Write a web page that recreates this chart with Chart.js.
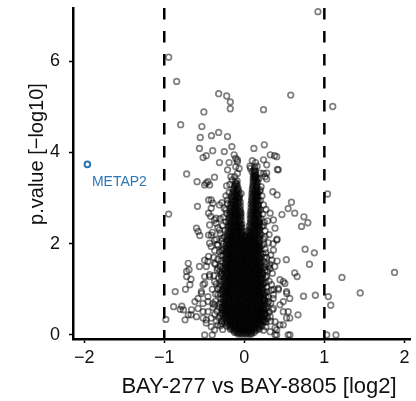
<!DOCTYPE html>
<html>
<head>
<meta charset="utf-8">
<script src="https://cdn.jsdelivr.net/npm/chart.js@4/dist/chart.umd.min.js"></script>
<style>
  html, body { margin: 0; padding: 0; background: #fff; }
  canvas { display: block; }
</style>
</head>
<body>
<canvas id="volcano" width="416" height="401"></canvas>
<script>
// volcano plot: BAY-277 vs BAY-8805

const xTicks = [-2, -1, 0, 1, 2];
const yTicks = [0, 2, 4, 6];
const cutoffs = [-1, 1];

const xTitle = 'BAY-277 vs BAY-8805 [log2]';
const yTitle = 'p.value [\u2212log10]';

// highlighted protein
const hitNames = ['METAP2'];
const hitPoints = [[-1.96, 3.74]];

// dense centre of the cloud, one row per -log10 p level: [y, [log2 fc ...]]
const coreRows = [
    [0.02, [-0.08, -0.05, -0.02, 0.01, 0.04, 0.07, 0.09]],
    [0.055, [-0.12, -0.09, -0.07, -0.04, -0.005, 0.025, 0.055, 0.085, 0.12]],
    [0.09, [-0.13, -0.10, -0.06, -0.03, 0.0, 0.03, 0.07, 0.10, 0.14]],
    [0.125, [-0.175, -0.15, -0.115, -0.08, -0.045, -0.01, 0.02, 0.05, 0.09, 0.125, 0.16, 0.19]],
    [0.16, [-0.17, -0.13, -0.10, -0.06, -0.02, 0.01, 0.05, 0.08, 0.12, 0.15, 0.18]],
    [0.195, [-0.22, -0.18, -0.145, -0.11, -0.07, -0.035, 0.005, 0.04, 0.075, 0.11, 0.15, 0.185, 0.22]],
    [0.23, [-0.20, -0.16, -0.12, -0.09, -0.05, -0.01, 0.02, 0.06, 0.09, 0.13, 0.17, 0.20]],
    [0.265, [-0.245, -0.21, -0.17, -0.13, -0.10, -0.06, -0.025, 0.015, 0.05, 0.09, 0.12, 0.16, 0.20, 0.235]],
    [0.30, [-0.22, -0.18, -0.15, -0.11, -0.07, -0.04, 0.0, 0.03, 0.07, 0.11, 0.14, 0.18, 0.22]],
    [0.335, [-0.26, -0.22, -0.185, -0.14, -0.105, -0.07, -0.03, 0.005, 0.045, 0.08, 0.125, 0.155, 0.19, 0.23, 0.25]],
    [0.37, [-0.235, -0.20, -0.16, -0.12, -0.09, -0.05, -0.01, 0.02, 0.06, 0.10, 0.13, 0.17, 0.20, 0.225]],
    [0.405, [-0.265, -0.22, -0.18, -0.145, -0.11, -0.075, -0.04, 0.005, 0.035, 0.08, 0.115, 0.15, 0.185, 0.21, 0.245]],
    [0.44, [-0.24, -0.21, -0.17, -0.13, -0.10, -0.06, -0.02, 0.01, 0.05, 0.08, 0.12, 0.16, 0.19, 0.22]],
    [0.475, [-0.27, -0.23, -0.195, -0.155, -0.12, -0.08, -0.045, -0.01, 0.025, 0.065, 0.095, 0.135, 0.17, 0.20, 0.24, 0.26]],
    [0.51, [-0.245, -0.22, -0.18, -0.14, -0.11, -0.07, -0.03, 0.0, 0.04, 0.07, 0.11, 0.15, 0.18, 0.22]],
    [0.545, [-0.265, -0.23, -0.20, -0.16, -0.125, -0.09, -0.05, -0.015, 0.02, 0.06, 0.09, 0.13, 0.165, 0.20, 0.235, 0.255]],
    [0.58, [-0.245, -0.21, -0.17, -0.13, -0.09, -0.06, -0.02, 0.02, 0.05, 0.09, 0.12, 0.16, 0.20, 0.22]],
    [0.615, [-0.27, -0.23, -0.19, -0.155, -0.12, -0.085, -0.045, -0.005, 0.035, 0.07, 0.10, 0.14, 0.175, 0.21, 0.245]],
    [0.65, [-0.245, -0.22, -0.18, -0.14, -0.11, -0.07, -0.03, 0.0, 0.04, 0.08, 0.11, 0.15, 0.18, 0.22]],
    [0.685, [-0.265, -0.225, -0.20, -0.16, -0.125, -0.09, -0.05, -0.015, 0.02, 0.05, 0.09, 0.13, 0.165, 0.20, 0.24, 0.255]],
    [0.72, [-0.24, -0.20, -0.16, -0.12, -0.09, -0.05, -0.01, 0.03, 0.06, 0.10, 0.13, 0.17, 0.21]],
    [0.755, [-0.265, -0.23, -0.19, -0.14, -0.105, -0.07, -0.035, 0.01, 0.045, 0.08, 0.115, 0.15, 0.19, 0.23, 0.25]],
    [0.79, [-0.245, -0.21, -0.18, -0.14, -0.10, -0.06, -0.03, 0.01, 0.05, 0.08, 0.12, 0.15, 0.19, 0.22]],
    [0.825, [-0.26, -0.225, -0.195, -0.16, -0.12, -0.08, -0.045, -0.01, 0.035, 0.065, 0.10, 0.135, 0.175, 0.205, 0.24]],
    [0.86, [-0.24, -0.20, -0.16, -0.13, -0.09, -0.05, -0.01, 0.02, 0.06, 0.10, 0.13, 0.17, 0.21]],
    [0.895, [-0.265, -0.22, -0.18, -0.145, -0.11, -0.07, -0.03, 0.005, 0.04, 0.08, 0.115, 0.15, 0.19, 0.23, 0.25]],
    [0.93, [-0.24, -0.21, -0.17, -0.14, -0.10, -0.06, -0.03, 0.01, 0.04, 0.08, 0.12, 0.15, 0.19, 0.215]],
    [0.965, [-0.26, -0.225, -0.19, -0.155, -0.12, -0.08, -0.045, -0.01, 0.025, 0.065, 0.10, 0.13, 0.17, 0.20, 0.235]],
    [1.00, [-0.235, -0.20, -0.16, -0.12, -0.08, -0.05, -0.01, 0.03, 0.06, 0.10, 0.14, 0.17, 0.21]],
    [1.035, [-0.255, -0.22, -0.18, -0.14, -0.10, -0.065, -0.03, 0.01, 0.045, 0.08, 0.12, 0.155, 0.19, 0.23]],
    [1.07, [-0.235, -0.21, -0.17, -0.13, -0.10, -0.06, -0.02, 0.01, 0.05, 0.08, 0.12, 0.16, 0.19, 0.21]],
    [1.105, [-0.26, -0.22, -0.19, -0.15, -0.115, -0.08, -0.04, -0.005, 0.03, 0.065, 0.10, 0.14, 0.175, 0.21, 0.235]],
    [1.14, [-0.23, -0.19, -0.15, -0.12, -0.08, -0.04, 0.0, 0.03, 0.07, 0.10, 0.14, 0.18, 0.205]],
    [1.175, [-0.255, -0.21, -0.17, -0.135, -0.10, -0.06, -0.025, 0.015, 0.05, 0.085, 0.12, 0.16, 0.19, 0.225]],
    [1.21, [-0.235, -0.20, -0.17, -0.13, -0.09, -0.06, -0.02, 0.02, 0.05, 0.09, 0.12, 0.16, 0.20]],
    [1.245, [-0.25, -0.215, -0.185, -0.15, -0.11, -0.075, -0.04, 0.0, 0.035, 0.07, 0.105, 0.14, 0.175, 0.21, 0.23]],
    [1.28, [-0.23, -0.19, -0.15, -0.11, -0.08, -0.04, 0.0, 0.04, 0.07, 0.11, 0.14, 0.18, 0.205]],
    [1.315, [-0.25, -0.21, -0.17, -0.135, -0.10, -0.06, -0.025, 0.015, 0.055, 0.09, 0.125, 0.16, 0.19, 0.225]],
    [1.35, [-0.225, -0.20, -0.16, -0.12, -0.09, -0.05, -0.01, 0.02, 0.06, 0.09, 0.13, 0.17, 0.20]],
    [1.385, [-0.245, -0.215, -0.18, -0.145, -0.105, -0.07, -0.03, 0.005, 0.04, 0.075, 0.11, 0.15, 0.19, 0.22]],
    [1.42, [-0.23, -0.19, -0.15, -0.11, -0.07, -0.04, 0.0, 0.04, 0.07, 0.11, 0.15, 0.18, 0.20]],
    [1.455, [-0.245, -0.21, -0.17, -0.13, -0.10, -0.065, -0.02, 0.015, 0.055, 0.09, 0.125, 0.16, 0.19, 0.215]],
    [1.49, [-0.225, -0.20, -0.16, -0.12, -0.09, -0.05, -0.01, 0.02, 0.06, 0.09, 0.13, 0.17, 0.195]],
    [1.525, [-0.24, -0.205, -0.175, -0.14, -0.10, -0.06, -0.02, 0.02, 0.06, 0.095, 0.13, 0.17, 0.21]],
    [1.56, [-0.22, -0.18, -0.14, -0.11, -0.07, -0.03, 0.0, 0.04, 0.08, 0.11, 0.15, 0.185]],
    [1.595, [-0.24, -0.20, -0.165, -0.13, -0.095, -0.055, -0.02, 0.015, 0.045, 0.08, 0.12, 0.155, 0.19, 0.21]],
    [1.63, [-0.22, -0.19, -0.15, -0.12, -0.08, -0.04, -0.01, 0.03, 0.06, 0.10, 0.13, 0.17, 0.19]],
    [1.665, [-0.235, -0.205, -0.17, -0.135, -0.10, -0.06, -0.025, 0.02, 0.06, 0.095, 0.135, 0.165, 0.205]],
    [1.70, [-0.215, -0.18, -0.14, -0.10, -0.07, -0.03, 0.01, 0.04, 0.08, 0.12, 0.15, 0.185]],
    [1.735, [-0.235, -0.20, -0.165, -0.125, -0.09, -0.055, -0.015, 0.02, 0.05, 0.09, 0.125, 0.16, 0.20]],
    [1.77, [-0.21, -0.19, -0.15, -0.11, -0.08, -0.04, 0.0, 0.03, 0.07, 0.10, 0.14, 0.18]],
    [1.805, [-0.23, -0.20, -0.165, -0.125, -0.08, -0.045, -0.01, 0.03, 0.065, 0.10, 0.135, 0.17, 0.20]],
    [1.84, [-0.215, -0.18, -0.14, -0.10, -0.06, -0.03, 0.01, 0.05, 0.08, 0.12, 0.15, 0.18]],
    [1.875, [-0.23, -0.195, -0.16, -0.12, -0.08, -0.04, 0.0, 0.035, 0.07, 0.105, 0.14, 0.17, 0.195]],
    [1.91, [-0.21, -0.17, -0.13, -0.09, -0.06, -0.02, 0.02, 0.05, 0.09, 0.12, 0.16, 0.18]],
    [1.945, [-0.225, -0.19, -0.15, -0.115, -0.08, -0.045, -0.005, 0.035, 0.07, 0.105, 0.14, 0.175, 0.195]],
    [1.98, [-0.20, -0.18, -0.14, -0.10, -0.07, -0.03, 0.01, 0.04, 0.08, 0.11, 0.15, 0.175]],
    [2.015, [-0.22, -0.18, -0.14, -0.11, -0.07, -0.035, 0.005, 0.04, 0.075, 0.11, 0.15, 0.19]],
    [2.05, [-0.20, -0.16, -0.12, -0.09, -0.05, -0.02, 0.02, 0.06, 0.09, 0.13, 0.17]],
    [2.085, [-0.22, -0.185, -0.145, -0.105, -0.075, -0.04, 0.0, 0.035, 0.07, 0.105, 0.14, 0.19]],
    [2.12, [-0.20, -0.17, -0.13, -0.10, -0.06, -0.03, 0.01, 0.05, 0.08, 0.12, 0.16, 0.175]],
    [2.155, [-0.215, -0.18, -0.15, -0.11, -0.075, -0.04, 0.0, 0.03, 0.065, 0.10, 0.14, 0.19]],
    [2.19, [-0.195, -0.16, -0.12, -0.09, -0.05, -0.02, 0.02, 0.07, 0.10, 0.13, 0.17]],
    [2.23, [-0.21, -0.17, -0.14, -0.10, -0.065, -0.035, 0.05, 0.085, 0.12, 0.16, 0.19]],
    [2.27, [-0.19, -0.15, -0.12, -0.08, -0.05, -0.02, 0.03, 0.07, 0.10, 0.14, 0.18]],
    [2.31, [-0.205, -0.17, -0.135, -0.10, -0.07, -0.045, 0.065, 0.095, 0.13, 0.165, 0.19]],
    [2.35, [-0.19, -0.16, -0.12, -0.09, -0.06, -0.03, 0.08, 0.11, 0.15, 0.18]],
    [2.39, [-0.20, -0.165, -0.13, -0.095, -0.065, -0.04, 0.065, 0.10, 0.135, 0.165, 0.19]],
    [2.43, [-0.18, -0.15, -0.11, -0.08, -0.05, -0.03, 0.08, 0.12, 0.15, 0.18]],
    [2.47, [-0.195, -0.16, -0.125, -0.09, -0.06, 0.075, 0.105, 0.14, 0.17, 0.19]],
    [2.51, [-0.18, -0.14, -0.11, -0.07, -0.04, 0.09, 0.12, 0.16, 0.18]],
    [2.55, [-0.19, -0.155, -0.12, -0.085, -0.055, 0.075, 0.11, 0.145, 0.185]],
    [2.59, [-0.17, -0.14, -0.10, -0.07, -0.04, 0.09, 0.13, 0.17]],
    [2.63, [-0.185, -0.15, -0.115, -0.08, -0.05, 0.075, 0.105, 0.135, 0.16, 0.18]],
    [2.67, [-0.17, -0.13, -0.10, -0.06, -0.04, 0.09, 0.12, 0.15, 0.17]],
    [2.71, [-0.18, -0.145, -0.11, -0.075, -0.05, 0.08, 0.115, 0.15, 0.18]],
    [2.75, [-0.16, -0.13, -0.09, -0.05, 0.10, 0.13, 0.17]],
    [2.79, [-0.175, -0.14, -0.105, -0.07, 0.085, 0.12, 0.155, 0.18]],
    [2.83, [-0.16, -0.12, -0.09, -0.05, 0.10, 0.14, 0.17]],
    [2.87, [-0.17, -0.135, -0.10, -0.07, 0.085, 0.115, 0.145, 0.175]],
    [2.91, [-0.15, -0.12, -0.08, -0.05, 0.10, 0.13, 0.16]],
    [2.95, [-0.165, -0.13, -0.10, -0.07, 0.09, 0.12, 0.15, 0.175]],
    [2.99, [-0.15, -0.11, -0.08, -0.06, 0.10, 0.14, 0.16]],
    [3.03, [-0.16, -0.125, -0.09, -0.07, 0.095, 0.125, 0.15, 0.17]],
    [3.07, [-0.14, -0.10, -0.06, 0.11, 0.14, 0.16]],
    [3.11, [-0.15, -0.115, -0.085, 0.095, 0.125, 0.15, 0.17]],
    [3.15, [-0.13, -0.10, -0.07, 0.11, 0.14, 0.16]],
    [3.19, [-0.14, -0.10, -0.08, 0.10, 0.13, 0.16]],
    [3.23, [-0.12, -0.08, 0.11, 0.15]],
    [3.27, [-0.125, -0.095, 0.105, 0.135, 0.16]],
    [3.31, [-0.11, -0.09, 0.12, 0.15]],
    [3.35, [-0.11, 0.11, 0.14, 0.165]],
    [3.39, [0.12, 0.15]],
    [3.43, [0.11, 0.135, 0.16]],
    [3.47, [0.12, 0.14]],
    [3.51, [0.115, 0.145]],
    [3.55, [0.13]],
    [3.59, [0.12, 0.14]],
    [3.63, [0.125]],
    [3.68, [0.13]]
];

// shoulders either side of the centre
const shoulderPoints = [
    [-0.27, 0.12], [-0.30, 0.20], [-0.28, 0.30], [-0.32, 0.38], [-0.29, 0.47], [-0.34, 0.52],
    [-0.28, 0.60], [-0.31, 0.68], [-0.36, 0.74], [-0.29, 0.80], [-0.33, 0.88], [-0.28, 0.95],
    [-0.31, 1.05], [-0.35, 1.12], [-0.29, 1.18], [-0.32, 1.25], [-0.28, 1.35], [-0.34, 1.42],
    [-0.30, 1.50], [-0.27, 1.58], [-0.33, 1.66], [-0.29, 1.74], [-0.31, 1.82], [-0.26, 1.90],
    [-0.34, 1.98], [-0.28, 2.06], [-0.25, 2.15], [-0.30, 2.22], [-0.24, 2.30], [-0.27, 2.40],
    [-0.23, 2.48], [-0.26, 2.58], [-0.22, 2.66], [-0.25, 2.78], [-0.21, 2.88], [-0.23, 3.05],
    [-0.19, 3.12], [-0.18, 3.30], [-0.15, 3.40], [-0.12, 3.47], [-0.09, 3.38], [-0.04, 3.10],
    [-0.285, 0.25], [-0.30, 0.42], [-0.275, 0.55], [-0.31, 0.60], [-0.285, 0.72], [-0.30, 0.90],
    [-0.275, 1.00], [-0.30, 1.10], [-0.285, 1.28], [-0.305, 1.40], [-0.27, 1.45], [-0.29, 1.62],
    [-0.265, 1.75], [-0.285, 1.85], [-0.26, 2.00], [-0.275, 2.12], [-0.35, 0.30], [-0.37, 0.45],
    [-0.36, 0.90], [-0.38, 1.30], [-0.36, 1.55], [-0.37, 1.85], [-0.35, 2.10], [-0.33, 2.35],
    [-0.30, 2.55], [-0.28, 2.90], [-0.39, 0.60], [-0.40, 1.00], [-0.38, 1.70], [-0.40, 2.25],
    [0.24, 0.10], [0.27, 0.18], [0.25, 0.30], [0.29, 0.36], [0.26, 0.45], [0.31, 0.50],
    [0.24, 0.55], [0.28, 0.62], [0.33, 0.70], [0.25, 0.76], [0.30, 0.83], [0.26, 0.92],
    [0.34, 0.98], [0.28, 1.05], [0.24, 1.12], [0.31, 1.18], [0.27, 1.26], [0.23, 1.33],
    [0.29, 1.40], [0.25, 1.48], [0.32, 1.55], [0.24, 1.62], [0.28, 1.70], [0.23, 1.78],
    [0.26, 1.88], [0.22, 1.96], [0.30, 2.02], [0.24, 2.10], [0.21, 2.20], [0.26, 2.28],
    [0.22, 2.38], [0.25, 2.47], [0.21, 2.55], [0.23, 2.65], [0.20, 2.74], [0.24, 2.85],
    [0.20, 2.95], [0.22, 3.05], [0.19, 3.15], [0.21, 3.25], [0.18, 3.42], [0.20, 3.55],
    [0.16, 3.70], [0.14, 3.78], [0.10, 3.82], [0.07, 3.70],
    [0.27, 0.28], [0.285, 0.42], [0.27, 0.58], [0.29, 0.68], [0.27, 0.85], [0.285, 0.95],
    [0.265, 1.15], [0.28, 1.30], [0.26, 1.42], [0.275, 1.55], [0.25, 1.70], [0.27, 1.80],
    [0.245, 2.00], [0.26, 2.15], [0.24, 2.40], [0.33, 0.30], [0.35, 0.55], [0.36, 0.80],
    [0.34, 1.10], [0.35, 1.35], [0.33, 1.75], [0.31, 2.20], [0.29, 2.50], [0.27, 2.75],
    [0.37, 1.00], [0.38, 1.50], [0.36, 2.00]
];

// scattered proteins
const outlierPoints = [
    [0.92, 7.09], [-0.945, 6.09], [-0.845, 5.56], [-0.32, 5.29], [-0.22, 5.24], [-0.175, 5.11],
    [-0.175, 4.96], [0.58, 5.26], [0.24, 4.94], [1.105, 5.01], [-0.505, 4.89], [-0.795, 4.61],
    [-0.53, 4.57], [-0.55, 4.33], [-0.41, 4.37], [-0.32, 4.44], [-0.21, 4.35], [-0.56, 4.09],
    [-0.515, 3.89], [-0.475, 3.93], [-0.395, 4.04], [-0.25, 4.02], [-0.155, 4.13], [-0.31, 3.78],
    [-0.19, 3.78], [-0.127, 3.95], [-0.107, 3.87], [-0.086, 3.80], [-0.107, 3.69], [-0.209, 3.62],
    [-0.086, 3.54], [-0.168, 3.47], [-0.065, 3.65], [-0.086, 3.84],
    [0.12, 4.09], [0.25, 4.17], [0.325, 3.95], [0.377, 3.93], [0.405, 3.91], [0.425, 3.62],
    [0.24, 3.84], [0.28, 3.73], [0.413, 3.63], [0.28, 3.55], [0.28, 3.42], [0.078, 3.65],
    [0.098, 3.58], [0.139, 3.47], [0.241, 3.54], [0.26, 3.47],
    [-0.72, 3.53], [-0.59, 3.36], [-0.475, 3.33], [-0.372, 3.46], [-0.454, 3.36], [-0.433, 3.29],
    [-0.221, 3.27], [-0.495, 3.29],
    [0.356, 3.14], [0.41, 3.07], [0.20, 3.18], [1.04, 3.09],
    [-0.945, 2.65], [-0.585, 2.82], [-0.413, 2.96], [-0.393, 2.89], [-0.31, 2.85], [-0.413, 2.78],
    [-0.209, 2.96], [-0.229, 2.74], [-0.42, 2.60], [-0.352, 2.56], [-0.433, 2.41], [-0.372, 2.52],
    [-0.352, 2.45], [-0.446, 2.96], [-0.446, 2.67], [-0.446, 2.19], [-0.446, 1.72],
    [0.589, 2.91], [0.548, 2.77], [0.63, 2.67], [0.47, 2.64], [0.745, 2.59], [0.794, 2.46],
    [0.715, 2.38], [0.323, 2.67], [0.364, 2.52], [0.384, 2.34], [0.405, 2.08], [0.364, 1.86],
    [0.41, 2.10], [0.41, 1.62], [0.32, 1.46], [0.487, 1.17], [0.425, 0.99], [0.53, 0.91],
    [0.487, 0.73], [0.548, 0.51], [0.569, 0.37],
    [-0.597, 2.34], [-0.577, 2.27], [-0.556, 2.18], [-0.413, 2.19], [-0.372, 2.08], [-0.331, 1.97],
    [-0.413, 1.94], [-0.31, 2.30], [-0.27, 1.86], [-0.433, 2.01],
    [0.76, 1.88], [0.875, 1.80], [0.525, 1.65], [0.814, 1.55], [0.63, 1.36], [0.66, 1.28],
    [1.22, 1.26], [1.877, 1.37], [1.448, 0.92], [0.888, 0.87], [0.74, 0.85], [1.05, 0.84],
    [1.08, 0.65], [0.671, 0.44],
    [-0.70, 1.57], [-0.72, 1.39], [-0.69, 1.43], [-0.72, 1.28], [-0.666, 1.22], [-0.56, 1.50],
    [-0.68, 1.10], [-0.863, 0.95], [-0.735, 1.00], [-0.883, 0.62], [-0.78, 0.63], [-0.80, 0.56],
    [-0.76, 0.55], [-0.70, 0.44], [-0.665, 0.44], [-0.74, 0.33], [-0.98, 0.34],
    [-0.495, 0], [-0.40, 0], [0.385, 0], [0.405, 0], [0.548, 0], [0.57, 0], [1.03, 0], [1.145, 0],
    [0.487, 0.22], [0.384, 0.15],
    [-0.454, 1.61], [-0.372, 1.57], [-0.433, 1.32], [-0.372, 1.17], [-0.515, 1.10], [-0.536, 0.95],
    [-0.454, 0.84], [-0.577, 0.80], [-0.617, 0.73], [-0.577, 0.58], [-0.597, 0.40], [-0.515, 0.37],
    [-0.475, 0.26], [-0.413, 0.18], [-0.372, 0.11], [-0.454, 0.51], [-0.372, 0.66], [-0.331, 1.02],
    [-0.29, 1.32], [-0.331, 1.46], [-0.659, 0.55], [-0.495, 1.64], [-0.495, 1.28], [-0.393, 0.69],
    [-0.515, 0.69], [-0.475, 0.33], [-0.474, 1.50], [-0.434, 1.28], [-0.495, 1.13], [-0.536, 0.91],
    [-0.454, 0.73], [-0.515, 0.51], [-0.413, 0.37], [-0.33, 0.22],
    [0.446, 1.21], [0.507, 1.13], [0.528, 0.95], [0.568, 0.80], [0.446, 0.66], [0.487, 0.51],
    [0.528, 0.37], [0.446, 0.22], [0.405, 0.11], [0.323, 0.07], [0.344, 1.64], [0.303, 1.50],
    [0.425, 1.02], [0.364, 0.88], [0.303, 0.73], [0.364, 0.58], [0.323, 0.40], [0.384, 0.29]
];

const X_MIN = -2.14, X_MAX = 2.07;
const Y_MIN = -0.09, Y_MAX = 7.17;

const FONT = "'Liberation Sans', Arial, Helvetica, sans-serif";
const BLUE = '#2b78b6';

const toXY = p => ({ x: p[0], y: p[1] });
const corePoints = coreRows.flatMap(([y, xs]) => xs.map(x => ({ x: x, y: y })));
const cloud = corePoints
    .concat(shoulderPoints.map(toXY))
    .concat(outlierPoints.map(toXY));

const cutoffSets = cutoffs.map(c => ({
    type: 'line',
    data: [{ x: c, y: Y_MAX }, { x: c, y: Y_MIN }],
    borderColor: '#000',
    borderWidth: 2.5,
    borderDash: [11.5, 11.5],
    pointRadius: 0,
    fill: false,
    showLine: true,
    order: 0
}));

// axis titles and the protein label
const textPlugin = {
    id: 'volcanoText',
    afterDraw(chart) {
        const ctx = chart.ctx;
        const xs = chart.scales.x, ys = chart.scales.y;
        ctx.save();
        ctx.fillStyle = '#111';
        ctx.textAlign = 'center';
        ctx.textBaseline = 'middle';
        ctx.font = '22px ' + FONT;
        ctx.fillText(xTitle, 259, 387);
        ctx.font = '20px ' + FONT;
        ctx.translate(37, 154);
        ctx.rotate(-Math.PI / 2);
        ctx.fillText(yTitle, 0, 0);
        ctx.restore();

        ctx.save();
        ctx.fillStyle = BLUE;
        ctx.font = '14px ' + FONT;
        ctx.textAlign = 'left';
        ctx.textBaseline = 'middle';
        hitPoints.forEach((p, i) => {
            ctx.fillText(hitNames[i], xs.getPixelForValue(p[0]) + 4.5, ys.getPixelForValue(p[1]) + 18);
        });
        ctx.restore();
    }
};

const axisCommon = {
    type: 'linear',
    grid: {
        drawOnChartArea: false,
        drawTicks: true,
        tickLength: 4,
        tickColor: '#000',
        tickWidth: 1.5
    },
    border: { display: true, color: '#000', width: 2.5 },
    ticks: {
        color: '#111',
        font: { size: 18, family: FONT },
        callback: v => String(v).replace('-', '\u2212')
    }
};

new Chart(document.getElementById('volcano'), {
    type: 'scatter',
    data: {
        datasets: [
            ...cutoffSets,
            {
                data: hitPoints.map(toXY),
                pointRadius: 2.8,
                pointBorderWidth: 2,
                pointBorderColor: BLUE,
                pointBackgroundColor: 'rgba(0,0,0,0)',
                order: 1
            },
            {
                data: cloud,
                pointRadius: 2.8,
                pointBorderWidth: 1.7,
                pointBorderColor: 'rgba(0,0,0,0.5)',
                pointBackgroundColor: 'rgba(0,0,0,0)',
                order: 2
            }
        ]
    },
    options: {
        responsive: false,
        animation: false,
        devicePixelRatio: 1,
        layout: { padding: { top: 8, right: 0, left: 0, bottom: 0 } },
        plugins: { legend: { display: false }, tooltip: { enabled: false } },
        events: [],
        scales: {
            x: {
                ...axisCommon,
                min: X_MIN,
                max: X_MAX,
                ticks: { ...axisCommon.ticks, padding: 4, maxRotation: 0 },
                afterBuildTicks: s => { s.ticks = xTicks.map(v => ({ value: v })); },
                afterFit: s => { s.height = 62; s.paddingLeft = 0; s.paddingRight = 0; }
            },
            y: {
                ...axisCommon,
                min: Y_MIN,
                max: Y_MAX,
                ticks: { ...axisCommon.ticks, padding: 9 },
                afterBuildTicks: s => { s.ticks = yTicks.map(v => ({ value: v })); },
                afterFit: s => { s.width = 73; s.paddingTop = 0; s.paddingBottom = 0; }
            }
        }
    },
    plugins: [textPlugin]
});
</script>
</body>
</html>
